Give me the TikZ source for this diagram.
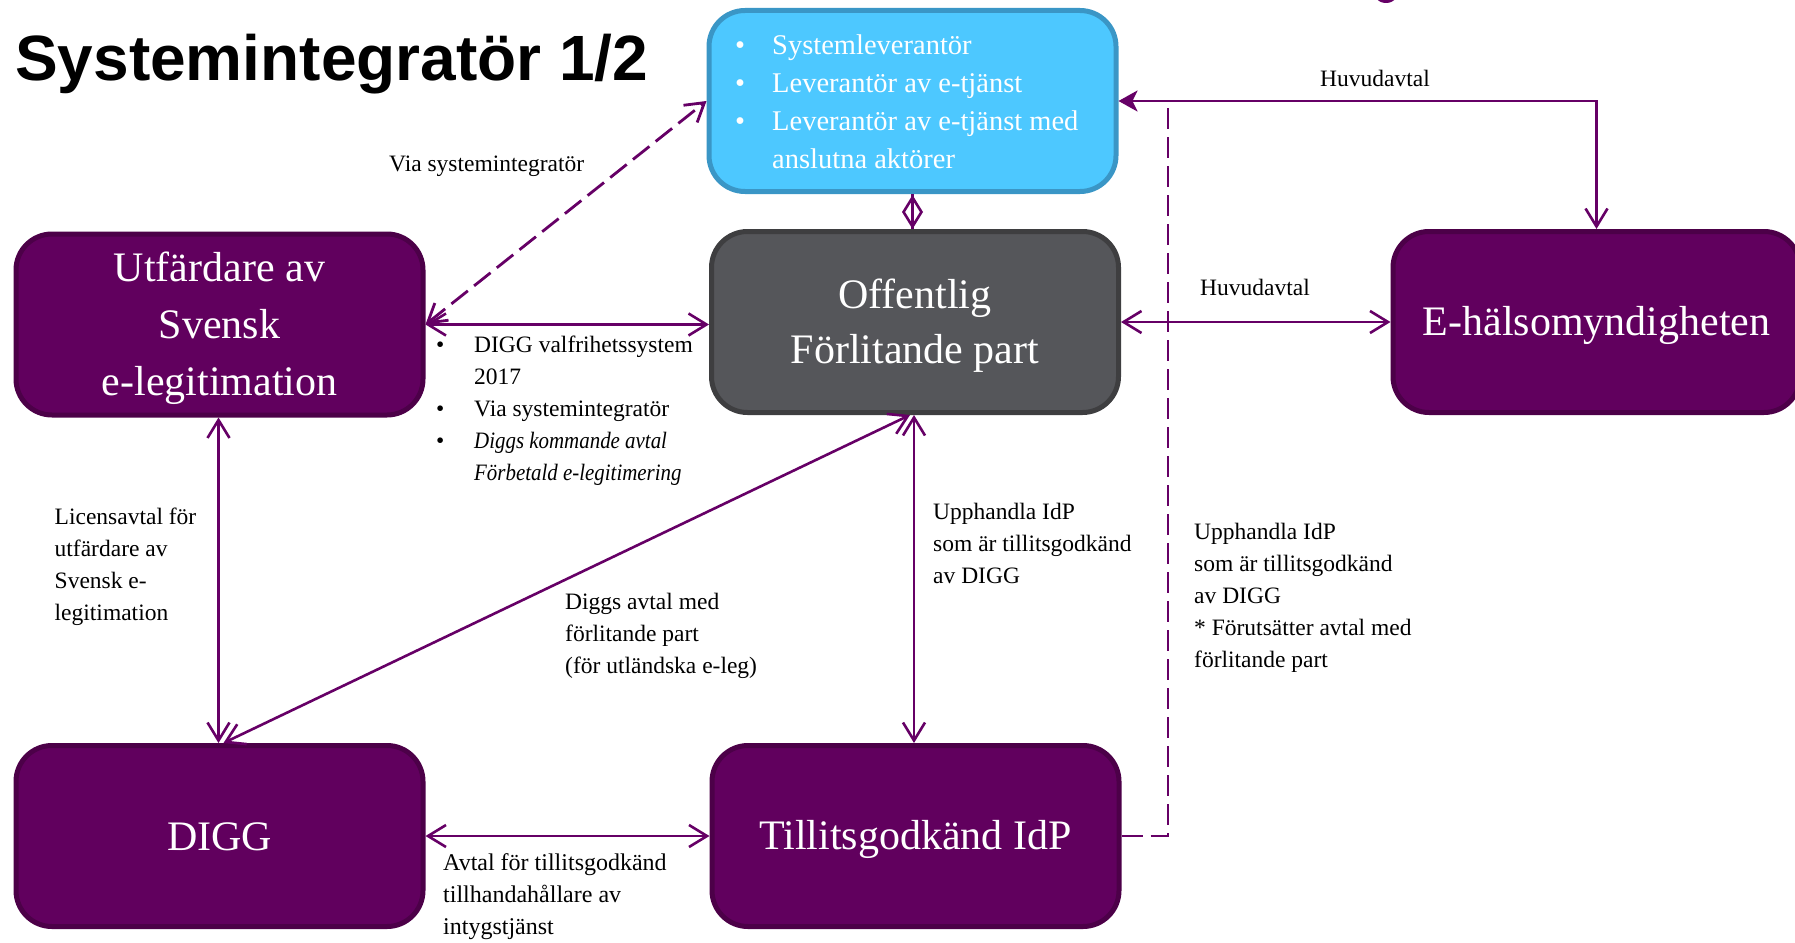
\documentclass[tikz,border=0pt]{standalone}
\usepackage{fontspec}
\setmainfont{Liberation Serif}
\newfontfamily\titlefont{Liberation Sans}
\newfontface\narrowit{Liberation Serif Italic}[FakeStretch=0.89]
\usetikzlibrary{arrows.meta}
\definecolor{purplefill}{RGB}{97,0,94}
\definecolor{purpleborder}{RGB}{76,0,72}
\definecolor{bluefill}{RGB}{77,200,255}
\definecolor{blueborder}{RGB}{58,150,198}
\definecolor{grayfill}{RGB}{85,86,90}
\definecolor{grayborder}{RGB}{62,62,64}
\definecolor{connpurple}{RGB}{102,0,102}
\begin{document}
\begin{tikzpicture}[x=1pt,y=-1pt,
  box/.style={rounded corners=36pt, line width=5pt, minimum width=407pt, minimum height=181pt,
    inner sep=0pt},
  pbox/.style={box, fill=purplefill, draw=purpleborder},
  gbox/.style={box, fill=grayfill, draw=grayborder},
  bbox/.style={box, fill=bluefill, draw=blueborder},
  boxtext/.style={inner sep=0pt, text=white, align=center, font=\fontsize{42}{57}\selectfont},
  conn/.style={draw=connpurple, line width=2.6pt},
  dconn/.style={conn, line width=2.8pt, dash pattern=on 21pt off 8pt},
  >={Straight Barb[length=18pt,width=22pt]},
  lbl/.style={font=\fontsize{23.5}{32}\selectfont, align=left, inner sep=0pt, anchor=west, text=black},
  bluelbl/.style={font=\fontsize{28.5}{38}\selectfont, align=left, inner sep=0pt, anchor=west, text=white}
]
\useasboundingbox (0,0) rectangle (1795,942);
\fill[connpurple] (1386,-11) circle (14pt);

\node[anchor=base west, inner sep=0pt, font=\titlefont\bfseries\fontsize{64}{70}\selectfont] (title) at (15,80) {Systemintegratör 1/2};

\node[bbox] (blue) at (912.5,101) {};
\node[bluelbl] (bluelist) at (735,102) {\makebox[37pt][l]{•}Systemleverantör\\
  \makebox[37pt][l]{•}Leverantör av e-tjänst\\
  \makebox[37pt][l]{•}Leverantör av e-tjänst med\\
  \hspace*{37pt}anslutna aktörer};

\node[pbox] (util) at (219.5,324.5) {};
\node[gbox] (off) at (915,322) {};
\node[pbox] (ehm) at (1596.5,322) {};
\node[pbox] (digg) at (219.5,836) {};
\node[pbox] (idp) at (915.5,836) {};

\node[boxtext] (utilt) at ([yshift=-3.4pt]util.center) {Utfärdare av\\Svensk\\e-legitimation};
\node[boxtext, font=\fontsize{42}{55}\selectfont] (offt) at ([yshift=-3.4pt]off.center) {Offentlig\\Förlitande part};
\node[boxtext] (ehmt) at ([yshift=-3.4pt]ehm.center) {E-hälsomyndigheten};
\node[boxtext] (diggt) at ([yshift=-0.5pt]digg.center) {DIGG};
\node[boxtext] (idpt) at ([yshift=-3.4pt]idp.center) {Tillitsgodkänd IdP};

\coordinate (dj) at (1168,101);

% connectors
\draw[dconn, <->] (util.east) -- (blue.west);
\draw[conn, <->] (util.east) -- (util.east -| off.west);
\draw[conn] (blue.south) -- (blue.south |- off.north);
\draw[conn, {Diamond[open,length=34pt,width=21pt]}-] (blue.south |- off.north) -- (blue.south);
\draw[conn, {Stealth[length=19pt,width=21pt,inset=5pt]}->] (blue.east) -| (ehm.north);
\draw[dconn] (idp.east) -| (dj);
\draw[conn, <->] (off.east) -- (ehm.west);
\draw[conn, <->] ([xshift=-1pt]off.south) -- ([xshift=-1pt]off.south |- idp.north);
\draw[conn, <->] ([xshift=-5pt]off.south) -- ([xshift=4pt]digg.north);
\draw[conn, <->] ([xshift=-1pt]util.south) -- ([xshift=-1pt]digg.north);
\draw[conn, <->] (digg.east) -- (idp.west);

% labels
\node[lbl] (l1) at (389,166) {Via systemintegratör};
\node[lbl] (l2) at (436,411) {\makebox[38pt][l]{•}DIGG valfrihetssystem\\
  \hspace*{38pt}2017\\
  \makebox[38pt][l]{•}Via systemintegratör\\
  \makebox[38pt][l]{•}{\narrowit Diggs kommande avtal}\\
  \hspace*{38pt}{\narrowit Förbetald e-legitimering}};
\node[lbl] (l3) at (54.5,567) {Licensavtal för\\utfärdare av\\Svensk e-\\legitimation};
\node[lbl] (l4) at (565,635.5) {Diggs avtal med\\förlitande part\\(för utländska e-leg)};
\node[lbl] (l5) at (933,543.5) {Upphandla IdP\\som är tillitsgodkänd\\av DIGG};
\node[lbl] (l6) at (1194,598) {Upphandla IdP\\som är tillitsgodkänd\\av DIGG\\* Förutsätter avtal med\\förlitande part};
\node[lbl, font=\fontsize{24}{32}\selectfont] (l7) at (443,897) {Avtal för tillitsgodkänd\\tillhandahållare av\\intygstjänst};
\node[lbl, anchor=center] (l8) at (1375,78) {Huvudavtal};
\node[lbl, anchor=center] (l9) at (1255,287) {Huvudavtal};
\end{tikzpicture}
\end{document}
